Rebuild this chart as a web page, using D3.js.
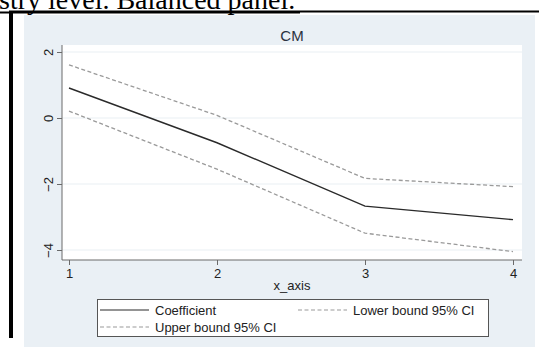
<!DOCTYPE html>
<html>
<head>
<meta charset="utf-8">
<script src="https://cdn.jsdelivr.net/npm/d3@7"></script>
<style>
  body { margin: 0; background: #fff; }
  svg { display: block; }
</style>
</head>
<body>
<div id="chart"></div>
<script>
var svgWidth = 539;
var svgHeight = 347;

// data
var xValues = [1, 2, 3, 4];
var coefficient = [0.91, -0.75, -2.67, -3.08];
var lowerBound = [0.21, -1.55, -3.49, -4.05];
var upperBound = [1.61, 0.08, -1.83, -2.08];
var xTicks = [1, 2, 3, 4];
var yTicks = [2, 0, -2, -4];
var legendLabels = ["Coefficient", "Lower bound 95% CI", "Upper bound 95% CI"];

var plot = { left: 62, right: 522, top: 45, bottom: 260 };

var svg = d3.select("#chart")
  .append("svg")
  .attr("width", svgWidth)
  .attr("height", svgHeight);

// page text cut off at the top
svg.append("text")
  .attr("x", -1)
  .attr("y", 9)
  .attr("font-family", "Liberation Serif, Times New Roman, serif")
  .attr("font-size", 28)
  .attr("fill", "#000")
  .text("stry level. Balanced panel.");
svg.append("rect")
  .attr("x", 0).attr("y", 11.5)
  .attr("width", 300).attr("height", 2)
  .attr("fill", "#000");

// frame around the figure
svg.append("rect")
  .attr("x", 9).attr("y", 10.5)
  .attr("width", 530).attr("height", 2)
  .attr("fill", "#000");

// graph region
svg.append("rect")
  .attr("x", 24).attr("y", 15)
  .attr("width", 511).attr("height", 332)
  .attr("fill", "#eaf0f5");

svg.append("rect")
  .attr("x", 9).attr("y", 11)
  .attr("width", 4).attr("height", 327)
  .attr("fill", "#000");

// plot region
svg.append("rect")
  .attr("x", plot.left).attr("y", plot.top)
  .attr("width", plot.right - plot.left).attr("height", plot.bottom - plot.top)
  .attr("fill", "#fff");

var x = d3.scaleLinear().domain([1, 4]).range([69, 513]);
var y = d3.scaleLinear().domain([2, -4]).range([52, 250]);

// gridlines
svg.append("g")
  .selectAll("line")
  .data(yTicks)
  .enter()
  .append("line")
  .attr("x1", plot.left).attr("x2", plot.right)
  .attr("y1", d => y(d)).attr("y2", d => y(d))
  .attr("stroke", "#eaf0f3")
  .attr("stroke-width", 1.2);

// title
svg.append("text")
  .attr("x", (plot.left + plot.right) / 2)
  .attr("y", 41)
  .attr("text-anchor", "middle")
  .attr("font-family", "Liberation Sans, Arial, sans-serif")
  .attr("font-size", 15)
  .attr("fill", "#2a3340")
  .text("CM");

// axes
var leftAxis = d3.axisLeft(y).tickValues(yTicks).tickSize(5).tickPadding(3)
  .tickFormat(d3.format("d"));
var yAxisG = svg.append("g")
  .attr("transform", `translate(${plot.left}, 0)`)
  .call(leftAxis);
yAxisG.select(".domain")
  .attr("d", `M0,${plot.top}V${plot.bottom}`)
  .attr("stroke", "#6a6a6a");
yAxisG.selectAll(".tick line").attr("stroke", "#6a6a6a");
yAxisG.selectAll(".tick text")
  .attr("font-family", "Liberation Sans, Arial, sans-serif")
  .attr("font-size", 13)
  .attr("fill", "#222")
  .attr("text-anchor", "middle")
  .attr("dy", null)
  .attr("x", null)
  .attr("y", null)
  .attr("transform", "translate(-14, 0) rotate(-90)")
  .attr("dominant-baseline", "central");

var bottomAxis = d3.axisBottom(x).tickValues(xTicks).tickSize(5).tickPadding(4)
  .tickFormat(d3.format("d"));
var xAxisG = svg.append("g")
  .attr("transform", `translate(0, ${plot.bottom})`)
  .call(bottomAxis);
xAxisG.select(".domain")
  .attr("d", `M${plot.left},0H${plot.right}`)
  .attr("stroke", "#6a6a6a");
xAxisG.selectAll(".tick line").attr("stroke", "#6a6a6a");
xAxisG.selectAll(".tick text")
  .attr("font-family", "Liberation Sans, Arial, sans-serif")
  .attr("font-size", 13)
  .attr("fill", "#222");

svg.append("text")
  .attr("x", (plot.left + plot.right) / 2)
  .attr("y", 290)
  .attr("text-anchor", "middle")
  .attr("font-family", "Liberation Sans, Arial, sans-serif")
  .attr("font-size", 13)
  .attr("fill", "#222")
  .text("x_axis");

// lines
var series = [
  { values: upperBound, color: "#9a9a9a", dash: "4,2.5", width: 1.3 },
  { values: lowerBound, color: "#9a9a9a", dash: "4,2.5", width: 1.3 },
  { values: coefficient, color: "#2a2a2a", dash: null, width: 1.4 }
];

var line = d3.line()
  .x((d, i) => x(xValues[i]))
  .y(d => y(d));

svg.append("g")
  .selectAll("path")
  .data(series)
  .enter()
  .append("path")
  .attr("d", d => line(d.values))
  .attr("fill", "none")
  .attr("stroke", d => d.color)
  .attr("stroke-width", d => d.width)
  .attr("stroke-dasharray", d => d.dash);

// legend
var legend = svg.append("g");
legend.append("rect")
  .attr("x", 97.5).attr("y", 299.5)
  .attr("width", 391).attr("height", 37)
  .attr("fill", "#fff")
  .attr("stroke", "#555")
  .attr("stroke-width", 1);

var legendItems = [
  { label: legendLabels[0], x: 100, y: 310, color: "#2a2a2a", dash: null },
  { label: legendLabels[1], x: 298, y: 310, color: "#9a9a9a", dash: "4,2.5" },
  { label: legendLabels[2], x: 100, y: 327, color: "#9a9a9a", dash: "4,2.5" }
];

var items = legend.selectAll("g.item")
  .data(legendItems)
  .enter()
  .append("g")
  .attr("class", "item");

items.append("line")
  .attr("x1", d => d.x).attr("x2", d => d.x + 49)
  .attr("y1", d => d.y).attr("y2", d => d.y)
  .attr("stroke", d => d.color)
  .attr("stroke-width", 1.2)
  .attr("stroke-dasharray", d => d.dash);

items.append("text")
  .attr("x", d => d.x + 55)
  .attr("y", d => d.y + 4.5)
  .attr("font-family", "Liberation Sans, Arial, sans-serif")
  .attr("font-size", 13)
  .attr("fill", "#222")
  .text(d => d.label);
</script>
</body>
</html>
